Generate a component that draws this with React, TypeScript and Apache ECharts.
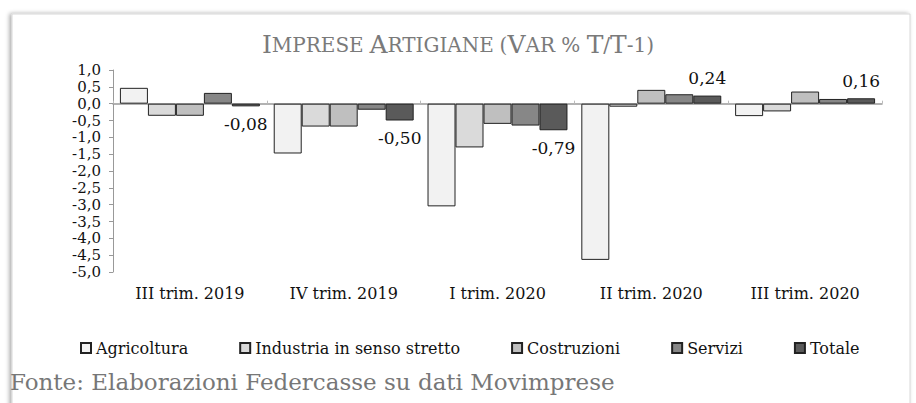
import React, { useEffect, useRef } from "react";
import * as echarts from "echarts";

const categories = ["III trim. 2019", "IV trim. 2019", "I trim. 2020", "II trim. 2020", "III trim. 2020"];
const seriesNames = ["Agricoltura", "Industria in senso stretto", "Costruzioni", "Servizi", "Totale"];
const agricoltura = [0.47, -1.48, -3.05, -4.64, -0.37];
const industria = [-0.36, -0.68, -1.3, -0.09, -0.23];
const costruzioni = [-0.36, -0.68, -0.6, 0.41, 0.36];
const servizi = [0.32, -0.18, -0.65, 0.28, 0.14];
const totale = [-0.08, -0.5, -0.79, 0.24, 0.16];
const yTicks = { min: -5, max: 1, interval: 0.5 };
const colors = ["#f2f2f2", "#dadada", "#bfbfbf", "#878787", "#5a5a5a"];

const SERIF = "DejaVu Serif";

export default function App() {
  const ref = useRef<HTMLDivElement>(null);
  useEffect(() => {
    document.body.style.margin = "0";
    const chart = echarts.init(ref.current!, null, { renderer: "svg" });
    const values = [agricoltura, industria, costruzioni, servizi, totale];
    const series = values.map((vals, i) => ({
      name: seriesNames[i],
      type: "bar",
      xAxisIndex: 0,
      barGap: "0%",
      barCategoryGap: "9%",
      itemStyle: { color: colors[i], borderColor: "#222", borderWidth: 1 },
      data:
        i === 4
          ? vals.map((v) => ({
              value: v,
              label: {
                show: true,
                position: v < 0 ? "bottom" : "top",
                distance: 9,
                formatter: (p: any) => p.value.toFixed(2).replace(".", ","),
                color: "#111",
                fontFamily: SERIF,
                fontSize: 17,
              },
            }))
          : vals,
    }));
    chart.setOption({
      animation: false,
      backgroundColor: "#fff",
      textStyle: { fontFamily: SERIF },
      title: {
        left: "center",
        top: 27,
        text: "{b|I}{s|MPRESE} {b|A}{s|RTIGIANE} {s|(}{b|V}{s|AR % }{b|T}{s|/}{b|T}{s|-1)}",
        textStyle: {
          fontWeight: "normal",
          fontFamily: SERIF,
          rich: {
            b: { fontFamily: SERIF, fontSize: 25, color: "#7a7a7a", fontWeight: "normal" },
            s: { fontFamily: SERIF, fontSize: 20, color: "#7a7a7a", fontWeight: "normal" },
          },
        },
      },
      legend: {
        bottom: 42,
        left: 75,
        itemWidth: 10,
        itemHeight: 10,
        itemGap: 51,
        icon: "rect",
        textStyle: { fontFamily: SERIF, fontSize: 16, color: "#111" },
        data: seriesNames,
      },
      grid: { left: 113, right: 34, top: 70, bottom: 131, containLabel: false },
      xAxis: [
        {
          type: "category",
          data: categories,
          position: "bottom",
          axisLine: { show: false, onZero: false },
          axisTick: { show: false },
          axisLabel: { margin: 13, fontFamily: SERIF, fontSize: 16, color: "#111" },
        },
        {
          type: "category",
          data: categories,
          position: "top",
          axisLine: { show: true, onZero: true, lineStyle: { color: "#999", width: 1.5 } },
          axisTick: { show: true, length: 3, lineStyle: { color: "#bbb" } },
          axisLabel: { show: false },
        },
      ],
      yAxis: {
        type: "value",
        min: yTicks.min,
        max: yTicks.max,
        interval: yTicks.interval,
        axisLine: { show: true, lineStyle: { color: "#999" } },
        axisTick: { show: true, length: 4, lineStyle: { color: "#999" } },
        splitLine: { show: false },
        axisLabel: {
          margin: 12,
          fontFamily: SERIF,
          fontSize: 15,
          color: "#111",
          lineHeight: 11,
          formatter: (v: number) => v.toFixed(1).replace(".", ","),
        },
      },
      graphic: [
        {
          type: "rect",
          z: -10,
          shape: { x: 12, y: 14, width: 898, height: 395 },
          style: {
            fill: "#fff",
            stroke: "#d8d8d8",
            lineWidth: 1,
            shadowBlur: 4,
            shadowOffsetX: -2,
            shadowColor: "rgba(0,0,0,0.35)",
          },
        },
        {
          type: "text",
          left: 10,
          top: 370,
          style: {
            text: "Fonte: Elaborazioni Federcasse su dati Movimprese",
            fontFamily: SERIF,
            fontSize: 23,
            fill: "#777",
          },
        },
      ],
      series,
    });
    return () => chart.dispose();
  }, []);
  return <div ref={ref} style={{ width: 916, height: 403 }} />;
}
